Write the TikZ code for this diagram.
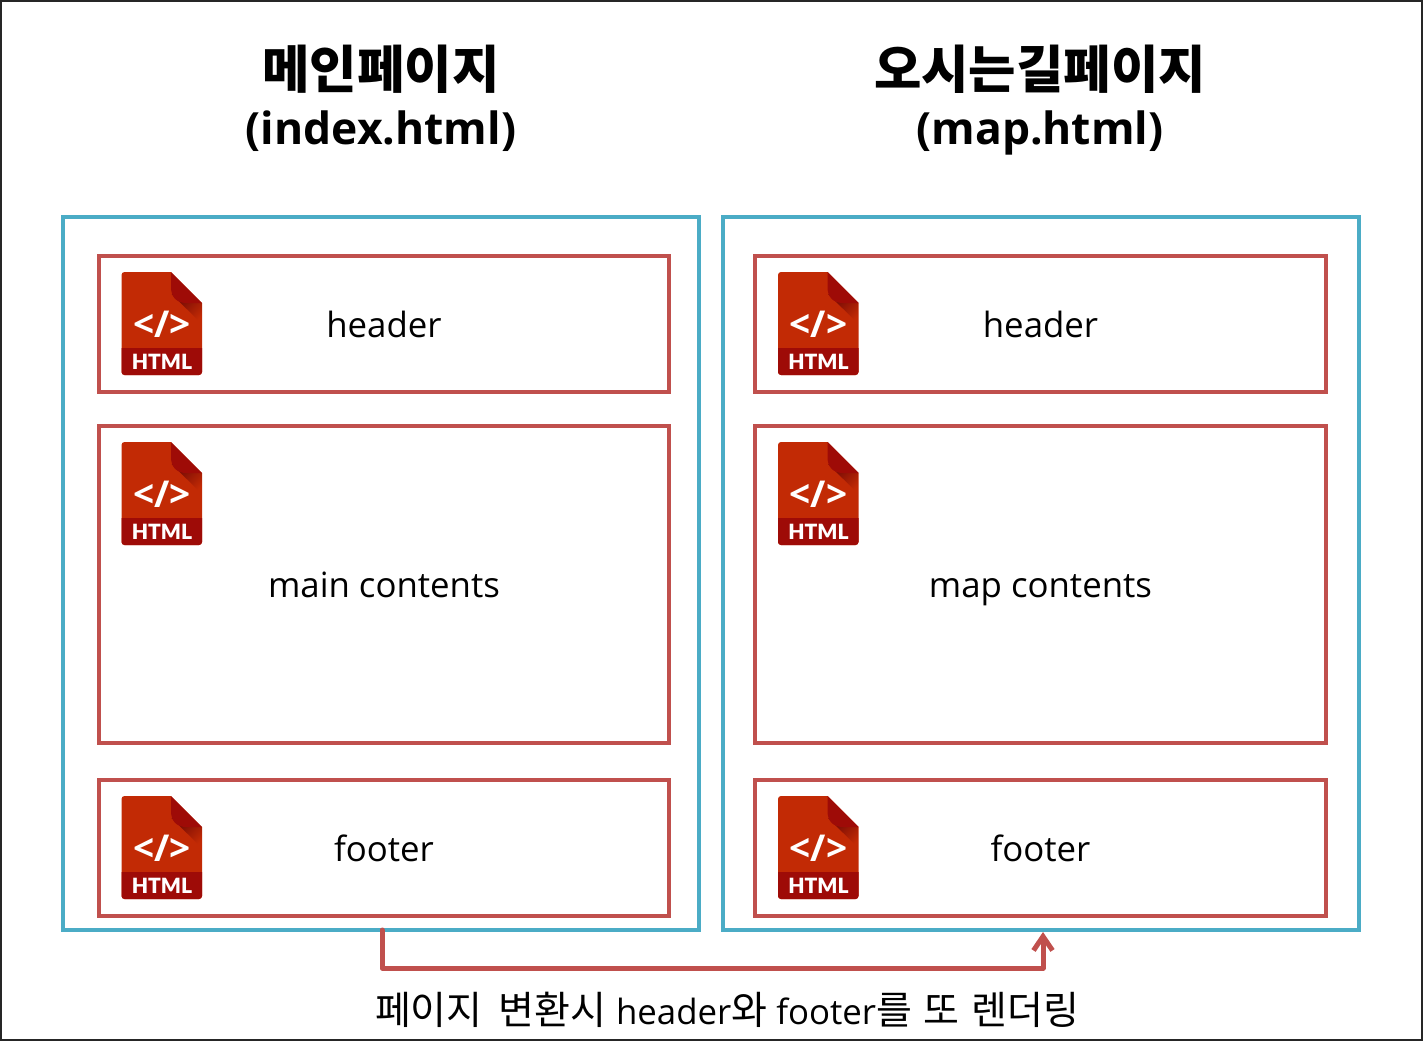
\documentclass[tikz,border=0pt]{standalone}
\usepackage{fontspec}
\setmainfont{Open Sans}
\newfontfamily\kr{Noto Sans CJK KR}
\newfontfamily\heavy{Lato Black}
\newcommand{\kt}[1]{{\kr\fontsize{39}{40}\selectfont #1}}
\usetikzlibrary{arrows.meta,shadings}
\definecolor{teal1}{HTML}{4BACC6}
\definecolor{red1}{HTML}{C0504D}
\definecolor{icored}{HTML}{C22A05}
\definecolor{icodark}{HTML}{9E0B07}
\tikzset{
  pagebox/.style={draw=teal1,line width=4pt,inner sep=0pt,outer sep=0pt,minimum width=636pt,anchor=north west,minimum height=713pt},
  part/.style={draw=red1,line width=4pt,inner sep=0pt,outer sep=0pt,minimum width=571pt,anchor=north west,font=\fontsize{34.8}{40}\selectfont,text height=33pt,text depth=7pt},
  title/.style={inner sep=0pt,font=\fontsize{44.4}{50}\selectfont\bfseries,text height=34pt,text depth=10pt},
  krtitle/.style={inner sep=0pt,font=\kr\fontsize{51.5}{55}\selectfont\bfseries},
  link/.style={draw=red1,line width=5pt,line join=round,line cap=round},
}
\newcommand{\htmlicon}[2]{%
  \begin{scope}[shift={(#1,#2)}]
    \fill[icored] (3,0) -- (49.5,0) -- (80.5,31) -- (80.5,100) arc[start angle=0,end angle=90,radius=3] -- (3,103) arc[start angle=90,end angle=180,radius=3] -- (0,3) arc[start angle=180,end angle=270,radius=3] -- cycle;
    \fill[icodark] (0,76) -- (80.5,76) -- (80.5,100) arc[start angle=0,end angle=90,radius=3] -- (3,103) arc[start angle=90,end angle=180,radius=3] -- cycle;
    \begin{scope}
      \clip (50,22) -- (80.5,31) -- (80.5,52) -- cycle;
      \shade[left color=icodark!70!black,right color=icored,shading angle=45] (50,22) rectangle (80.5,52);
    \end{scope}
    \fill[icodark] (49.5,0) -- (80.5,31) -- (65,31) .. controls (55,31) and (49.5,25) .. (49.5,15) -- cycle;
    \node[text=white,inner sep=0pt,font=\fontsize{37}{37}\selectfont\bfseries] at (40.5,52) {</>};
    \node[text=white,inner sep=0pt,font=\heavy\fontsize{21}{21}\selectfont] at (40.5,89.5) {HTML};
  \end{scope}}
\begin{document}
\begin{tikzpicture}[x=1pt,y=-1pt]
\useasboundingbox (0,0) rectangle (1423,1041);
\draw[draw=black!85!white,line width=1.6pt] (0.8,0.8) rectangle (1422.2,1040.2);

\node[krtitle] (t1) at (381,69) {메인페이지};
\node[title] (t1b) at (381,132) {(index.html)};
\node[krtitle] (t2) at (1040,69) {오시는길페이지};
\node[title] (t2b) at (1040,132) {(map.html)};

\node[pagebox] (pa) at (63,217) {};
\node[pagebox] (pb) at (723,217) {};

\node[part,minimum width=570pt,minimum height=136pt] (a1) at (99,256) {header};
\node[part,minimum width=570pt,minimum height=317pt] (a2) at (99,426) {main contents};
\node[part,minimum width=570pt,minimum height=136pt] (a3) at (99,780) {footer};
\node[part,minimum height=136pt] (b1) at (755,256) {header};
\node[part,minimum height=317pt] (b2) at (755,426) {map contents};
\node[part,minimum height=136pt] (b3) at (755,780) {footer};

\htmlicon{121.5}{272}
\htmlicon{121.5}{442}
\htmlicon{121.5}{796}
\htmlicon{778}{272}
\htmlicon{778}{442}
\htmlicon{778}{796}

\draw[link,-{Straight Barb[length=14pt,width=19pt,line width=5pt]}] ([xshift=1pt]pa.south) -- ++(0,38) -| ([xshift=2pt,yshift=-2pt]pb.south);

\node[inner sep=0pt,font=\fontsize{34.8}{40}\selectfont] (cap) at (727,1010) {\kt{페이지\hspace{7pt} 변환시}\hspace{1pt} header\kt{와} footer\kt{를\hspace{3pt} 또\hspace{3pt} 렌더링}};
\end{tikzpicture}
\end{document}
